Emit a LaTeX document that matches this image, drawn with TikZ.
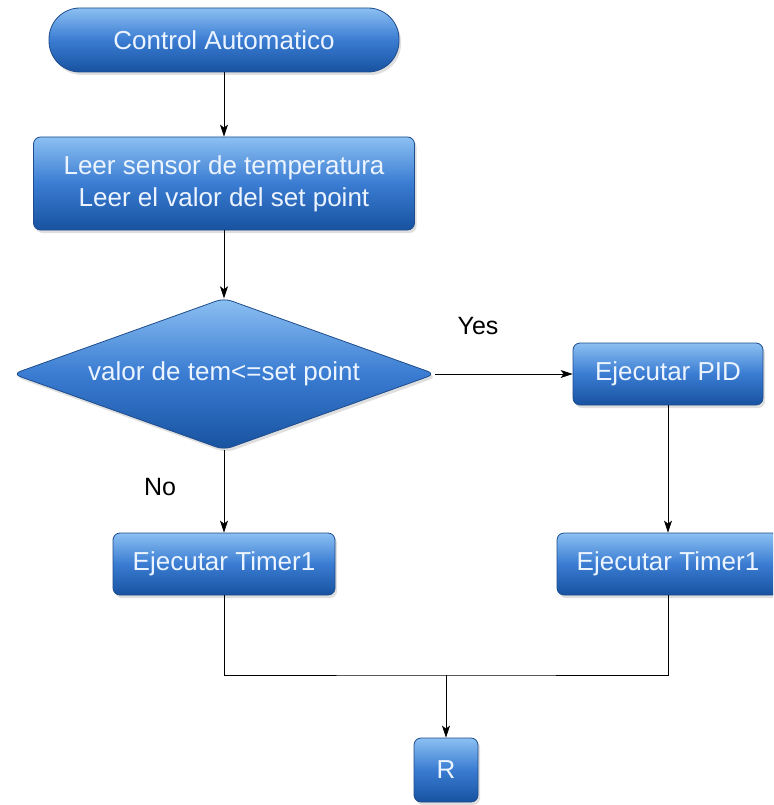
\documentclass[tikz,border=0pt]{standalone}
\usepackage{fontspec}
\setmainfont{Liberation Sans}
\usetikzlibrary{arrows.meta,shadows}
\definecolor{btop}{RGB}{140,192,242}
\definecolor{bmid}{RGB}{58,124,210}
\definecolor{bbot}{RGB}{24,82,160}
\definecolor{bedge}{RGB}{30,76,140}
\definecolor{btext}{RGB}{236,244,255}
\tikzset{
  bluefill/.style={draw=bedge, line width=0.8pt, top color=btop, bottom color=bbot,
    middle color=bmid,
    drop shadow={opacity=0.25, shadow xshift=2pt, shadow yshift=-3pt}},
  box/.style={bluefill, text=btext, inner sep=0pt, align=center,
    font=\fontsize{26}{32}\selectfont},
  procbox/.style={box, rectangle, rounded corners=7pt},
  termbox/.style={box, rectangle, rounded corners=31pt},
  decarea/.style={rectangle, inner sep=0pt, text=btext, align=center,
    font=\fontsize{26}{32}\selectfont},
  flow/.style={draw=black, line width=0.8pt},
  arr/.style={flow, -{Stealth[length=12pt,width=8pt,inset=3pt]}},
  lbl/.style={font=\fontsize{25}{30}\selectfont, text=black}
}
\begin{document}
\begin{tikzpicture}[x=1pt,y=-1pt]
  \clip (0,0) rectangle (773,805);
  \fill[white] (0,0) rectangle (773,805);

  \node[termbox, minimum width=350pt, minimum height=64pt] (start) at (224,40) {Control Automatico};
  \node[procbox, minimum width=381pt, minimum height=93pt] (read) at (224,183.5)
    {Leer sensor de temperatura\\Leer el valor del set point};

  % decision: the node gives the anchors, the diamond is drawn through them
  \node[decarea, minimum width=422pt, minimum height=151pt] (cond) at (224,374) {};
  \path[bluefill, rounded corners=8pt]
    (cond.north) -- (cond.east) -- (cond.south) -- (cond.west) -- cycle;
  \node[decarea] (condtext) at (cond.center) {valor de tem<=set point};

  \node[procbox, minimum width=190pt, minimum height=62pt] (pid) at (668,374) {Ejecutar PID};
  \node[procbox, minimum width=222pt, minimum height=62pt] (tleft) at (224,564) {Ejecutar Timer1};
  \node[procbox, minimum width=222pt, minimum height=62pt] (tright) at (668,564) {Ejecutar Timer1};
  \node[procbox, minimum width=64pt, minimum height=64pt] (ret) at (446,770) {R};

  \coordinate (join) at (446,675);

  \draw[arr] (start) -- (read);
  \draw[arr] (read) -- (cond.north);
  \draw[arr] (cond.east) -- (pid.west);
  \draw[arr] (pid) -- (tright);
  \draw[arr] (cond.south) -- (tleft.north);
  \draw[flow] (tleft.south) |- (join) -| (tright.south);
  \draw[arr] (join) -- (ret.north);

  \node[lbl] (yes) at (478,326) {Yes};
  \node[lbl] (no) at (160,487) {No};
\end{tikzpicture}
\end{document}
